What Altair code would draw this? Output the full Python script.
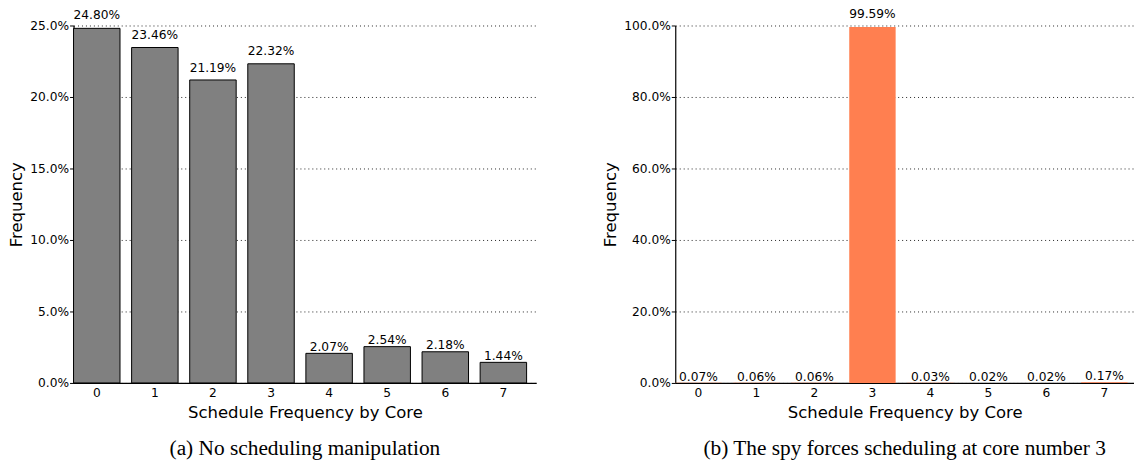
import altair as alt
import pandas as pd

cores = ["0", "1", "2", "3", "4", "5", "6", "7"]
freq_a = [24.80, 23.46, 21.19, 22.32, 2.07, 2.54, 2.18, 1.44]
freq_b = [0.07, 0.06, 0.06, 99.59, 0.03, 0.02, 0.02, 0.17]
ticks_a = [0, 5, 10, 15, 20, 25]
ticks_b = [0, 20, 40, 60, 80, 100]
caption_a = "(a) No scheduling manipulation"
caption_b = "(b) The spy forces scheduling at core number 3"

FONT = "DejaVu Sans"


def panel(vals, ticks, ymax, fill, stroke, caption, width, po):
    df = pd.DataFrame({"core": cores, "pct": vals})
    base = alt.Chart(df).transform_calculate(
        frac="datum.pct / 100", lab="datum.pct / 100 * 1.02"
    )
    x = alt.X(
        "core:N",
        sort=cores,
        scale=alt.Scale(paddingInner=0.2, paddingOuter=po, align=0),
        axis=alt.Axis(
            title="Schedule Frequency by Core",
            labelAngle=0,
            ticks=False,
            labelPadding=4,
            labelFont=FONT,
            labelFontSize=12.3,
            labelColor="#000",
            titleFont=FONT,
            titleFontSize=16.6,
            titleFontWeight="normal",
            titleColor="#000",
            titlePadding=6,
            domainColor="#000",
            domainWidth=1.2,
            grid=False,
        ),
    )
    yscale = alt.Scale(domain=[0, ymax], nice=False)
    y = alt.Y(
        "frac:Q",
        scale=yscale,
        axis=alt.Axis(
            title="Frequency",
            format=".1%",
            values=[t / 100 for t in ticks],
            tickSize=4,
            tickColor="#000",
            labelPadding=1,
            labelFont=FONT,
            labelFontSize=12.3,
            labelColor="#000",
            titleFont=FONT,
            titleFontSize=16.6,
            titleFontWeight="normal",
            titleColor="#000",
            titlePadding=5,
            domainColor="#000",
            domainWidth=1.2,
            grid=True,
            gridColor="#000",
            gridOpacity=0.85,
            gridDash=[1, 3],
            gridWidth=1,
        ),
    )
    bars = base.mark_bar(
        fill=fill, stroke=stroke, strokeWidth=1 if stroke else 0
    ).encode(x=x, y=y)
    labels = base.mark_text(
        baseline="bottom", dy=1, fontSize=12.3, font=FONT, color="#000"
    ).encode(
        x=x,
        y=alt.Y("lab:Q", scale=yscale),
        text=alt.Text("frac:Q", format=".2%"),
    )
    return alt.layer(bars, labels).properties(
        width=width,
        height=360,
        title=alt.TitleParams(
            caption,
            orient="bottom",
            font="Liberation Serif",
            fontSize=21.5,
            fontWeight="normal",
            color="#000",
            frame="group",
            anchor="middle",
            offset=17,
        ),
    )


left = panel(freq_a, ticks_a, 0.25, "#808080", "#000", caption_a, 466, 0.083)
right = panel(freq_b, ticks_b, 1.0, "#FF7F50", None, caption_b, 462, 0.055)

chart = (
    alt.hconcat(left, right, spacing=140, bounds="flush")
    .properties(padding={"left": 0, "top": -2, "right": 0, "bottom": 0})
    .configure_view(stroke=None)
)

chart.save("out.html", embed_options={"renderer": "svg", "actions": False})
